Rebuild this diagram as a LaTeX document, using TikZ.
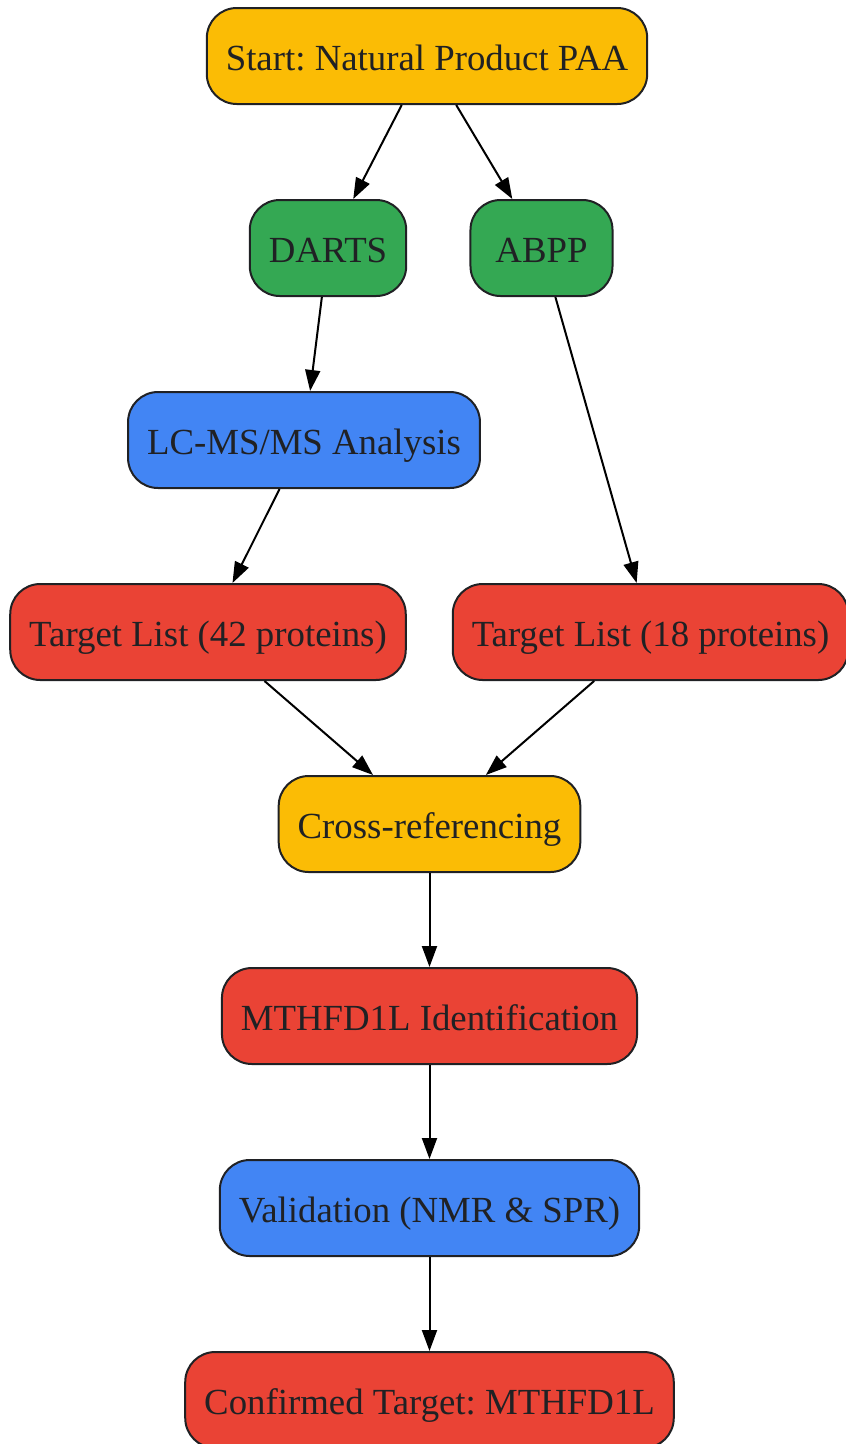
\documentclass[tikz,border=0pt]{standalone}
\usepackage{fontspec}
\setmainfont{Liberation Serif}
\usetikzlibrary{arrows.meta}
\frenchspacing

\definecolor{gyellow}{HTML}{FBBC05}
\definecolor{ggreen}{HTML}{34A853}
\definecolor{gblue}{HTML}{4285F4}
\definecolor{gred}{HTML}{EA4335}
\definecolor{ink}{HTML}{202124}

\begin{document}
\begin{tikzpicture}[x=1pt, y=-1pt,
    box/.style={draw=ink, line width=2pt, rounded corners=30pt, text=ink,
        minimum height=96pt, inner xsep=19pt, text height=30pt, text depth=2pt,
        font=\fontsize{36.8}{44}\selectfont},
    >={Triangle[length=21pt, width=15pt]}]
    \useasboundingbox (0,0) rectangle (846,1444);
    \clip (0,0) rectangle (846,1444);

    \node[box, fill=gyellow] (start) at (427, 56) {Start: Natural Product PAA};

    \node[box, fill=ggreen] (darts) at (328, 248) {DARTS};
    \node[box, fill=ggreen, inner xsep=25pt] (abpp) at (541.5, 248) {ABPP};

    \node[box, fill=gblue] (lcms) at (304, 440) {LC-MS/MS Analysis};

    \node[box, fill=gred] (list42) at (208, 632) {Target List (42 proteins)};
    \node[box, fill=gred] (list18) at (650.5, 632) {Target List (18 proteins)};

    \node[box, fill=gyellow] (xref) at (429.5, 824) {Cross-referencing};
    \node[box, fill=gred] (mthfd) at (429.5, 1016) {MTHFD1L Identification};
    \node[box, fill=gblue] (valid) at (429.5, 1208) {Validation (NMR \& SPR)};
    \node[box, fill=gred] (confirm) at (429.5, 1400) {Confirmed Target: MTHFD1L};

    \draw[->, line width=2pt] (start) -- (darts);
    \draw[->, line width=2pt] (start) -- (abpp);
    \draw[->, line width=2pt] (darts) -- (lcms);
    \draw[->, line width=2pt] (abpp) -- (list18);
    \draw[->, line width=2pt] (lcms) -- (list42);
    \draw[->, line width=2pt] (list42) -- (xref);
    \draw[->, line width=2pt] (list18) -- (xref);
    \draw[->, line width=2pt] (xref) -- (mthfd);
    \draw[->, line width=2pt] (mthfd) -- (valid);
    \draw[->, line width=2pt] (valid) -- (confirm);
\end{tikzpicture}
\end{document}
